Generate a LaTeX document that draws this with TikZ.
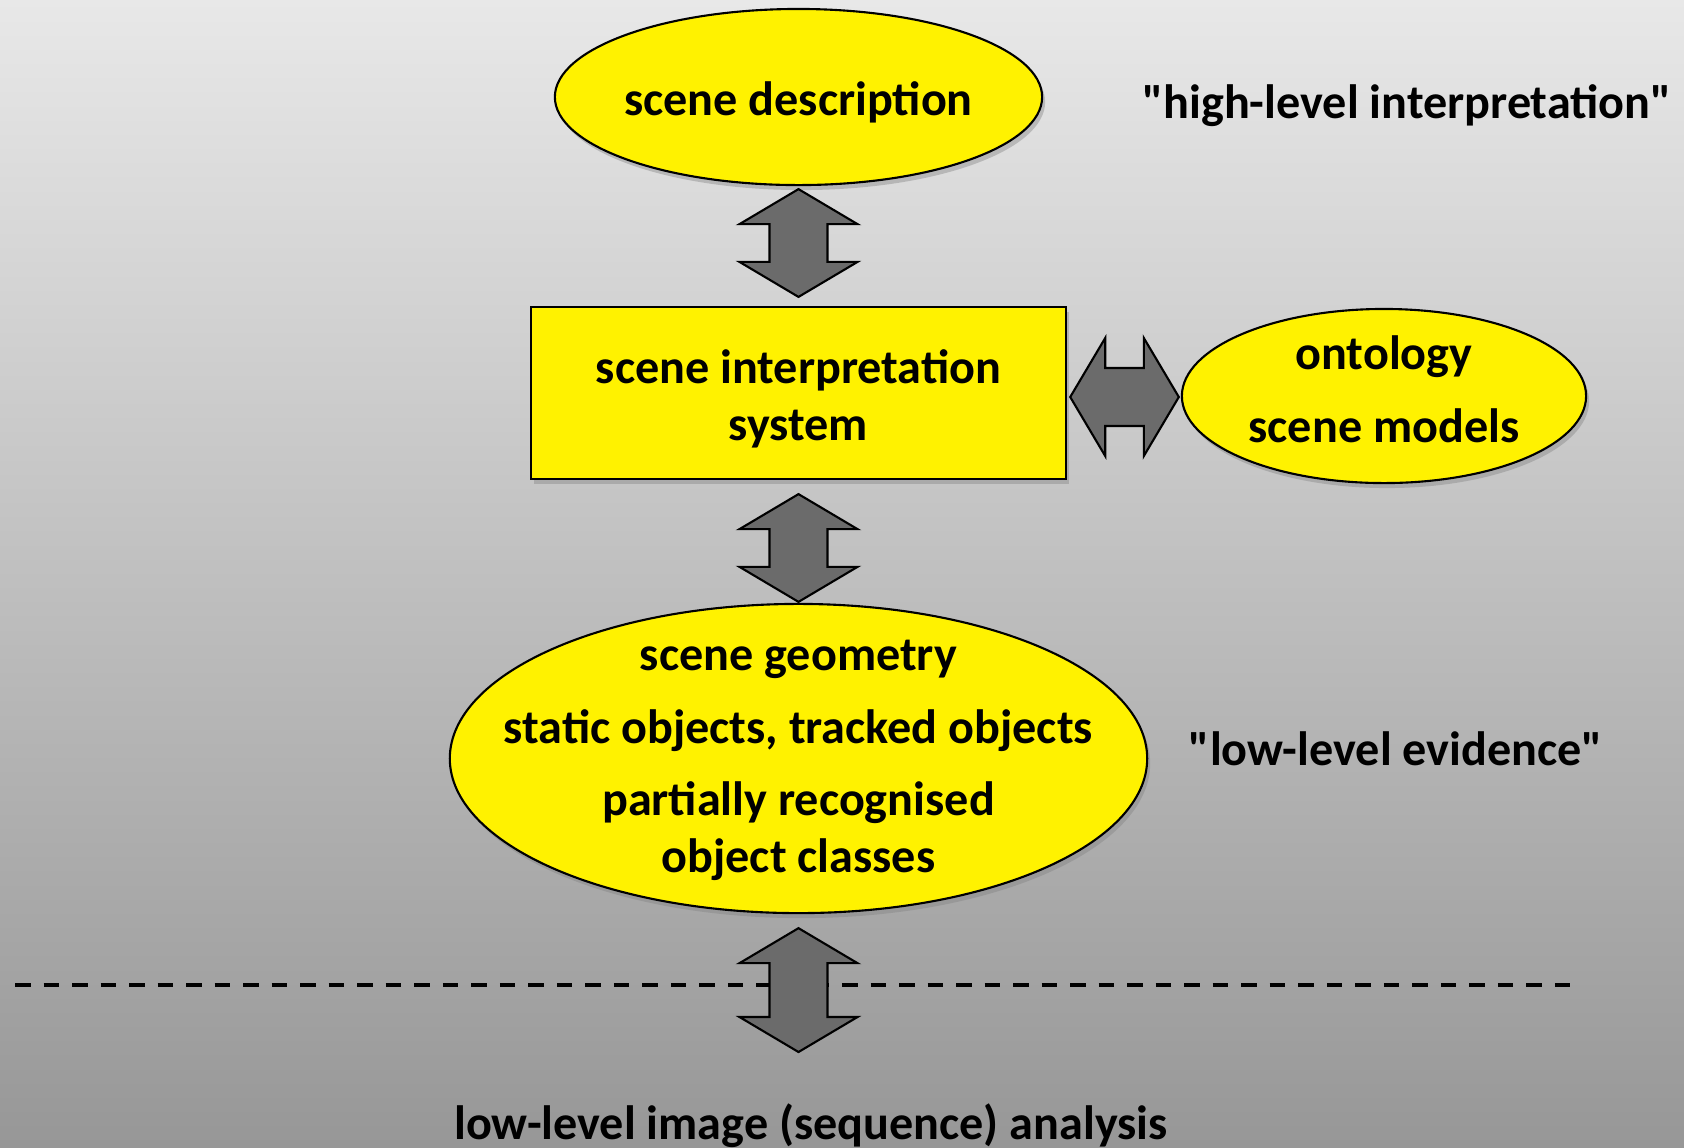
\documentclass[tikz,border=0pt]{standalone}
\usepackage{fontspec}
\setmainfont{Carlito}[Ligatures=TeXOff]
\usepackage{tikz}
\usetikzlibrary{shapes.geometric, shadows, calc}

\definecolor{bgtop}{HTML}{E8E8E8}
\definecolor{bgbottom}{HTML}{979797}
\definecolor{arrowgray}{HTML}{6B6B6B}

\tikzset{
  box/.style={draw, line width=0.6pt, fill=yellow, inner sep=0pt,
    drop shadow={shadow xshift=0.03cm, shadow yshift=-0.05cm, opacity=0.4}},
  oval/.style={box, ellipse},
  sysbox/.style={box, rectangle},
  note/.style={align=center, inner sep=0pt},
  blockarrow/.style={draw, line width=0.6pt, fill=arrowgray, line join=miter},
  dashline/.style={line width=0.04cm, dash pattern=on 0.155cm off 0.13cm}
}

% vertical double block arrow, from top tip to bottom tip
\newcommand{\vdouble}[2]{%
  \draw[blockarrow] let \p1=(#1), \p2=(#2) in
    (\x1,\y1) -- (\x1+0.59cm,\y1-0.35cm) -- (\x1+0.29cm,\y1-0.35cm)
    -- (\x1+0.29cm,\y2+0.35cm) -- (\x1+0.59cm,\y2+0.35cm) -- (\x1,\y2)
    -- (\x1-0.59cm,\y2+0.35cm) -- (\x1-0.29cm,\y2+0.35cm)
    -- (\x1-0.29cm,\y1-0.35cm) -- (\x1-0.59cm,\y1-0.35cm) -- cycle;}
% horizontal double block arrow, from left tip to right tip
\newcommand{\hdouble}[2]{%
  \draw[blockarrow] let \p1=(#1), \p2=(#2) in
    (\x1,\y1) -- (\x1+0.35cm,\y1+0.59cm) -- (\x1+0.35cm,\y1+0.29cm)
    -- (\x2-0.35cm,\y1+0.29cm) -- (\x2-0.35cm,\y1+0.59cm) -- (\x2,\y1)
    -- (\x2-0.35cm,\y1-0.59cm) -- (\x2-0.35cm,\y1-0.29cm)
    -- (\x1+0.35cm,\y1-0.29cm) -- (\x1+0.35cm,\y1-0.59cm) -- cycle;}

\begin{document}
\begin{tikzpicture}[x=0.01cm, y=-0.01cm,
  font=\fontsize{13.7}{16.2}\selectfont\bfseries]
\path[use as bounding box] (0,0) rectangle (1684,1147);
\shade[top color=bgtop, bottom color=bgbottom] (0,0) rectangle (1684,1147);

\draw[dashline] (15,985)--(1570,985);

% shapes
\node[oval, minimum width=4.87cm, minimum height=1.76cm] (desc) at (798.5,97) {};
\node[sysbox, minimum width=5.35cm, minimum height=1.72cm] (sys) at (798.5,393) {};
\node[oval, minimum width=4.04cm, minimum height=1.74cm] (onto) at (1384,396) {};
\node[oval, minimum width=6.97cm, minimum height=3.09cm] (geo) at (798.5,758.5) {};

% texts
\node[note] (desctext) at (798.5,102.5) {scene description};
\node[note] (systext) at (798.5,398.5) {scene interpretation\\system};
\node[note] (ontotext) at (1384,389) {ontology\\[4.5pt]scene models};
\node[note] (geotext) at (798.5,760.5)
  {scene geometry\\[4.5pt]static objects, tracked objects\\[4.5pt]partially recognised\\object classes};
\node[note] (high) at (1407,105.5) {"high-level interpretation"};
\node[note] (evid) at (1396,749) {"low-level evidence"};
\node[note] (lowimg) at (811,1125.5) {low-level image (sequence) analysis};
\coordinate (lowend) at (799,1052);

\vdouble{$(desc.south)+(0,3)$}{$(sys.north)+(0,-9)$}
\vdouble{$(sys.south)+(0,14)$}{$(geo.north)+(0,-1)$}
\vdouble{$(geo.south)+(0,14)$}{lowend}
\hdouble{$(sys.east)+(3,4)$}{$(onto.west)+(-2,0)$}
\end{tikzpicture}
\end{document}
